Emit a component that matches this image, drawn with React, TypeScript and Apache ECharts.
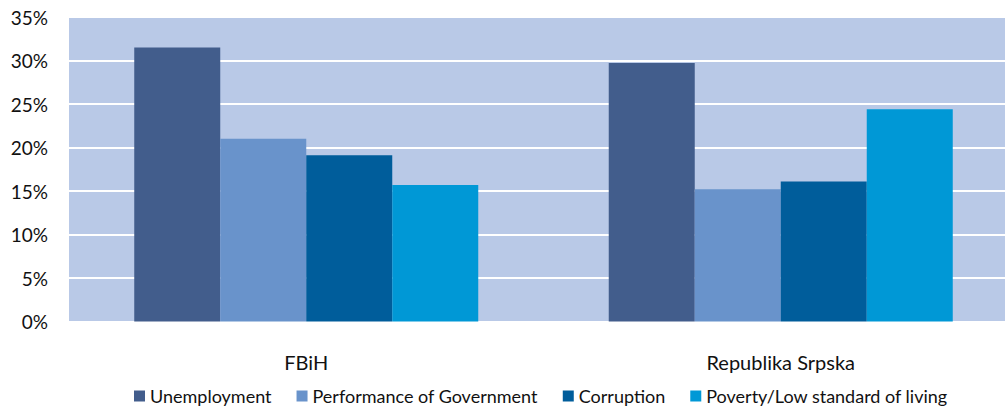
import React, { useEffect, useRef } from "react";
import * as echarts from "echarts";

const categories = ["FBiH", "Republika Srpska"];
const seriesNames = [
  "Unemployment",
  "Performance of Government",
  "Corruption",
  "Poverty/Low standard of living",
];
const unemployment = [31.5, 29.7];
const performance = [21.0, 15.2];
const corruption = [19.1, 16.1];
const poverty = [15.7, 24.4];
const colors = ["#425D8C", "#6993CB", "#005D9B", "#0098D6"];

export default function App() {
  const ref = useRef<HTMLDivElement>(null);
  useEffect(() => {
    if (!ref.current) return;
    const chart = echarts.init(ref.current, null, { renderer: "svg" });
    const values = [unemployment, performance, corruption, poverty];
    const font = "Lato, 'Open Sans', sans-serif";
    chart.setOption({
      animation: false,
      textStyle: { fontFamily: font },
      grid: {
        left: 69,
        top: 17,
        width: 949,
        height: 304.5,
        backgroundColor: "#B9C9E7",
        show: true,
        borderWidth: 0,
        outerBoundsMode: "none",
        containLabel: false,
      },
      legend: {
        data: seriesNames,
        left: 134,
        top: 387,
        padding: 0,
        itemWidth: 11,
        itemHeight: 11,
        itemGap: 25,
        icon: "rect",
        textStyle: { fontSize: 18, color: "#111", fontFamily: font },
      },
      xAxis: {
        type: "category",
        data: categories,
        axisLine: { show: false },
        axisTick: { show: false },
        axisLabel: { fontSize: 20, color: "#111", margin: 30, fontFamily: font },
      },
      yAxis: {
        type: "value",
        min: 0,
        max: 35,
        interval: 5,
        axisLine: { show: false },
        axisTick: { show: false },
        splitLine: { lineStyle: { color: "#FFFFFF", width: 2 } },
        axisLabel: {
          formatter: "{value}%",
          fontSize: 19,
          color: "#111",
          margin: 21,
          fontFamily: font,
        },
      },
      series: seriesNames.map((name, i) => ({
        name,
        type: "bar",
        data: values[i],
        barGap: "0%",
        barCategoryGap: "27.5%",
        itemStyle: { color: colors[i] },
      })),
    });
    return () => chart.dispose();
  }, []);
  return (
    <div
      ref={ref}
      style={{ position: "absolute", left: 0, top: 0, width: 1005, height: 407, background: "#fff", overflow: "hidden" }}
    />
  );
}
